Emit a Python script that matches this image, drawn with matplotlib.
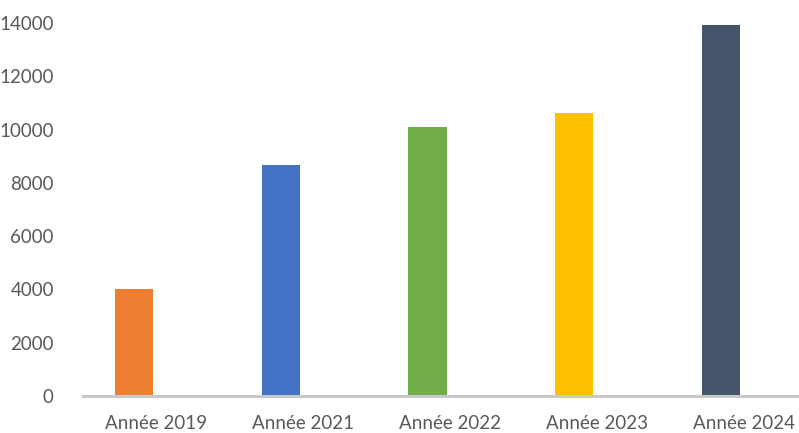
import numpy as np
import matplotlib
matplotlib.use('Agg')
import matplotlib.pyplot as plt

plt.rcParams['font.family'] = ['Lato', 'DejaVu Sans']

# donnees
categories = ['Année 2019', 'Année 2021', 'Année 2022', 'Année 2023', 'Année 2024']
valeurs = [4020, 8670, 10100, 10620, 13930]
couleurs = ['#ED7D31', '#4472C4', '#70AD47', '#FFC000', '#44546A']
yticks = [0, 2000, 4000, 6000, 8000, 10000, 12000, 14000]

W, H = 799, 433
fig = plt.figure(figsize=(W / 100, H / 100), dpi=100)
# zone de trace : debordement a droite comme l'original
ax = fig.add_axes([83 / W, 37 / H, (817 - 83) / W, (396 - 23) / H])

x = np.arange(len(categories))
w = 0.26
ax.bar(x - w / 2 - 0.023, valeurs, width=w, color=couleurs, zorder=2)

ax.set_xlim(-0.5, len(categories) - 0.5)
ax.set_ylim(0, 14000)
ax.set_xticks(x)
ax.set_xticklabels(categories)
ax.set_yticks(yticks)
ax.set_yticklabels([str(v) for v in yticks])

for s in ['top', 'right', 'left']:
    ax.spines[s].set_visible(False)
ax.spines['bottom'].set_color('#c8c8c8')
ax.spines['bottom'].set_linewidth(2.2)
ax.spines['bottom'].set_zorder(3)

ax.tick_params(axis='both', length=0, labelsize=13.5, labelcolor='#595959')
ax.tick_params(axis='y', pad=21)
ax.tick_params(axis='x', pad=14)

fig.savefig('out.png', dpi=100)
